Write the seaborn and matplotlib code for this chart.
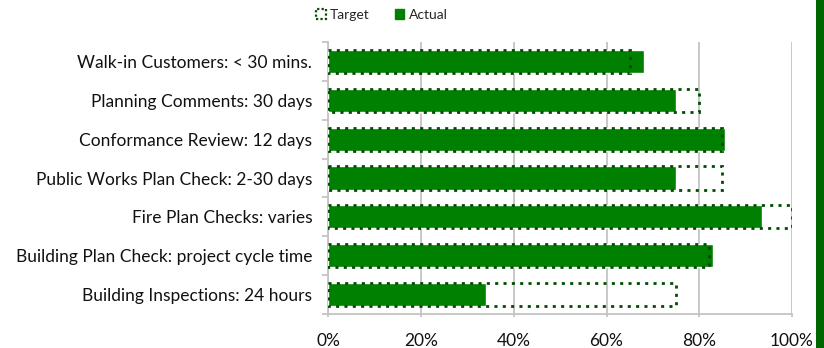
import matplotlib
matplotlib.use("Agg")
import matplotlib.pyplot as plt
import matplotlib.patches as mpatches
from matplotlib.ticker import FixedLocator, PercentFormatter
import seaborn as sns
import pandas as pd

categories = [
    "Walk-in Customers: < 30 mins.",
    "Planning Comments: 30 days",
    "Conformance Review: 12 days",
    "Public Works Plan Check: 2-30 days",
    "Fire Plan Checks: varies",
    "Building Plan Check: project cycle time",
    "Building Inspections: 24 hours",
]
target = [65, 80, 85, 85, 100, 82, 75]
actual = [68, 75, 85.5, 75, 93.5, 83, 34]

GREEN = "#008000"
DARK = "#004d00"
STRIPE = "#006600"
GRID = "#c4c4c4"

sns.set_theme(style="white")
plt.rcParams["font.family"] = ["Lato", "DejaVu Sans"]

df = pd.DataFrame({"category": categories, "Target": target, "Actual": actual})

fig = plt.figure(figsize=(8.24, 3.48), dpi=100)
ax = fig.add_axes([328.3 / 824, 1 - 313.9 / 348, (792 - 328.3) / 824, (313.9 - 42.1) / 348])

sns.barplot(data=df, x="Actual", y="category", color=GREEN, saturation=1,
            width=0.6, ax=ax, zorder=3)
sns.barplot(data=df, x="Target", y="category", fill=False, color=DARK,
            width=0.6, ax=ax, zorder=4)
for p in ax.containers[1]:
    p.set_linestyle((0, (1.1, 1.9)))
    p.set_linewidth(2.0)
    p.set_edgecolor(DARK)
    p.set_facecolor("none")
    p.set_capstyle("butt")

ax.set_xlim(0, 100)
ax.set_ylim(len(categories) - 0.5, -0.5)
ax.set_xlabel("")
ax.set_ylabel("")

ax.xaxis.set_major_locator(FixedLocator([0, 20, 40, 60, 80, 100]))
ax.xaxis.set_major_formatter(PercentFormatter(decimals=0))
ax.grid(axis="x", color=GRID, linewidth=1.3, zorder=0)
ax.set_axisbelow(True)

for side in ("top", "right"):
    ax.spines[side].set_visible(False)
for side in ("left", "bottom"):
    ax.spines[side].set_color(GRID)
    ax.spines[side].set_linewidth(1.3)

ax.yaxis.set_minor_locator(FixedLocator([i - 0.5 for i in range(len(categories) + 1)]))
ax.tick_params(axis="y", which="major", length=0, pad=11.5, labelsize=12.5, labelcolor="#111111")
ax.tick_params(axis="y", which="minor", left=True, length=4.5, width=1.3, color=GRID)
ax.tick_params(axis="x", which="major", bottom=True, length=2.5, width=1.3, color=GRID,
               pad=11, labelsize=12.5, labelcolor="#111111")

handles = [
    mpatches.Patch(facecolor="none", edgecolor=DARK, linestyle=(0, (1, 1)), linewidth=1.6,
                   label="Target"),
    mpatches.Patch(facecolor=GREEN, edgecolor=GREEN, label="Actual"),
]
fig.legend(handles=handles, loc="center left", bbox_to_anchor=(316 / 824, 1 - 15 / 348), ncol=2,
           frameon=False, fontsize=10, handlelength=0.7, handleheight=0.7, handletextpad=0.3,
           columnspacing=1.8, borderaxespad=0, borderpad=0)

fig.patches.append(mpatches.Rectangle((816 / 824, 0), 8 / 824, 1, transform=fig.transFigure,
                                      facecolor=STRIPE, edgecolor="none", zorder=5))

fig.savefig("out.png", dpi=100)
